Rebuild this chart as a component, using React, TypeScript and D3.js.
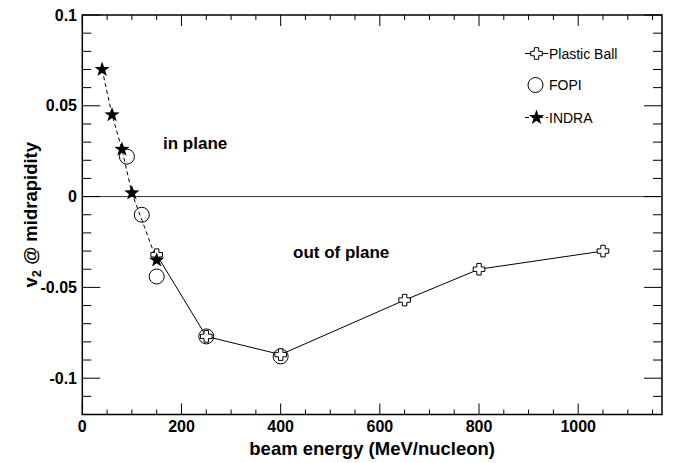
import React from "react";
import * as d3 from "d3";

const indraE = [40, 60, 80, 100, 150];
const indraV = [0.07, 0.045, 0.026, 0.002, -0.035];
const fopiE = [90, 120, 150, 250, 400];
const fopiV = [0.022, -0.01, -0.044, -0.077, -0.088];
const pbE = [150, 250, 400, 650, 800, 1050];
const pbV = [-0.032, -0.077, -0.087, -0.057, -0.04, -0.03];
const xMajor = [0, 200, 400, 600, 800, 1000];
const yMajor = [0.1, 0.05, 0, -0.05, -0.1];
const yMajorLabels = ["0.1", "0.05", "0", "-0.05", "-0.1"];
const legendNames = ["Plastic Ball", "FOPI", "INDRA"];

const W = 677, H = 463;
const L = 82.3, R = 662, T = 15, B = 414.5;

function starPath(r: number) {
  const pts: string[] = [];
  const ri = r * 0.4;
  for (let i = 0; i < 10; i++) {
    const a = -Math.PI / 2 + (i * Math.PI) / 5;
    const rr = i % 2 === 0 ? r : ri;
    pts.push(`${(rr * Math.cos(a)).toFixed(2)},${(rr * Math.sin(a)).toFixed(2)}`);
  }
  return "M" + pts.join("L") + "Z";
}
function crossPath(a: number, l: number) {
  return `M${-a},${-l}H${a}V${-a}H${l}V${a}H${a}V${l}H${-a}V${a}H${-l}V${-a}H${-a}Z`;
}

export default function App() {
  const x = d3.scaleLinear().domain([0, 1169]).range([L, R]);
  const y = d3.scaleLinear().domain([-0.12, 0.1]).range([B, T]);
  const line = d3.line<[number, number]>().x((d) => x(d[0])).y((d) => y(d[1]));
  const indra = indraE.map((e, i) => [e, indraV[i]] as [number, number]);
  const fopi = fopiE.map((e, i) => [e, fopiV[i]] as [number, number]);
  const pb = pbE.map((e, i) => [e, pbV[i]] as [number, number]);
  const xMinor = d3.range(0, 1169, 50);
  const yMinor = d3.range(-12, 11).map((v) => v / 100);
  const star = starPath(8);
  const cross = crossPath(2.2, 5.8);
  const font = "'Liberation Sans', Arial, Helvetica, sans-serif";
  const isMajorX = (v: number) => v % 200 === 0;
  const isMajorY = (v: number) => Math.abs(Math.round(v * 100)) % 5 === 0;

  return (
    <svg width={W} height={H} style={{ position: "absolute", left: 0, top: 0 }} fontFamily={font}>
      <rect width={W} height={H} fill="white" />
      {/* zero line */}
      <line x1={L} x2={R} y1={y(0)} y2={y(0)} stroke="#333" strokeWidth={1} />
      {/* ticks */}
      {xMinor.map((v) => {
        const len = isMajorX(v) ? 11 : 5;
        return (
          <g key={"xt" + v}>
            <line x1={x(v)} x2={x(v)} y1={B} y2={B - len} stroke="#000" />
            <line x1={x(v)} x2={x(v)} y1={T} y2={T + len} stroke="#000" />
          </g>
        );
      })}
      {yMinor.map((v) => {
        const len = isMajorY(v) ? 18 : 9;
        return (
          <g key={"yt" + v}>
            <line x1={L} x2={L + len} y1={y(v)} y2={y(v)} stroke="#000" />
            <line x1={R} x2={R - len} y1={y(v)} y2={y(v)} stroke="#000" />
          </g>
        );
      })}
      <rect x={L} y={T} width={R - L} height={B - T} fill="none" stroke="#000" strokeWidth={1.5} />
      {/* tick labels */}
      {xMajor.map((v) => (
        <text key={"xl" + v} x={x(v)} y={432} textAnchor="middle" fontSize={16} fontWeight="bold">
          {v}
        </text>
      ))}
      {yMajor.map((v, i) => (
        <text key={"yl" + v} x={77} y={y(v) + 5.5} textAnchor="end" fontSize={16} fontWeight="bold">
          {yMajorLabels[i]}
        </text>
      ))}
      <text x={(L + R) / 2} y={455} textAnchor="middle" fontSize={18.5} fontWeight="bold">
        beam energy (MeV/nucleon)
      </text>
      <text transform={`translate(37,${(T + B) / 2}) rotate(-90)`} textAnchor="middle" fontSize={18.5} fontWeight="bold">
        v<tspan fontSize={13} dy={4}>2</tspan>
        <tspan dy={-4}> @ midrapidity</tspan>
      </text>
      <text x={163} y={149} fontSize={17} fontWeight="bold">in plane</text>
      <text x={293} y={258} fontSize={17} fontWeight="bold">out of plane</text>
      {/* lines */}
      <path d={line(indra) || ""} fill="none" stroke="#000" strokeWidth={1} strokeDasharray="4,3" />
      <path d={line(pb) || ""} fill="none" stroke="#000" strokeWidth={1} />
      {/* markers */}
      {fopi.map((d, i) => (
        <circle key={"f" + i} cx={x(d[0])} cy={y(d[1])} r={7.5} fill="none" stroke="#000" strokeWidth={1} />
      ))}
      {pb.map((d, i) => (
        <path key={"p" + i} d={cross} transform={`translate(${x(d[0])},${y(d[1])})`} fill="white" stroke="#000" strokeWidth={1} />
      ))}
      {indra.map((d, i) => (
        <path key={"s" + i} d={star} transform={`translate(${x(d[0])},${y(d[1])})`} fill="#000" />
      ))}
      {/* legend */}
      <g fontSize={14}>
        <line x1={525} x2={548} y1={53.5} y2={53.5} stroke="#000" />
        <path d={cross} transform="translate(536.5,53.5)" fill="white" stroke="#000" />
        <text x={549} y={58.5}>{legendNames[0]}</text>
        <circle cx={535.5} cy={85} r={7.5} fill="none" stroke="#000" />
        <text x={549} y={90}>{legendNames[1]}</text>
        <line x1={525} x2={548} y1={117.5} y2={117.5} stroke="#000" strokeDasharray="4,3" />
        <path d={star} transform="translate(536.5,117.5)" fill="#000" />
        <text x={549} y={122.5}>{legendNames[2]}</text>
      </g>
    </svg>
  );
}
